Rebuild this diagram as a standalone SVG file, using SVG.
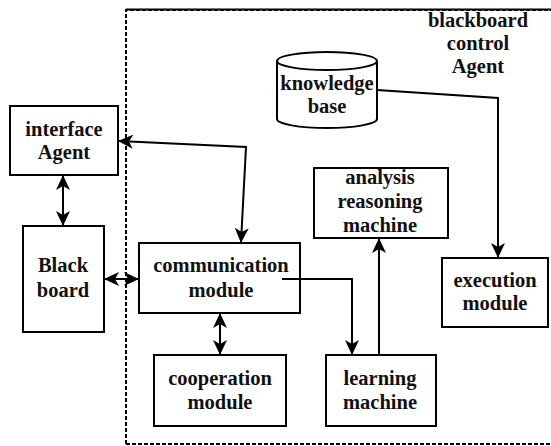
<svg xmlns="http://www.w3.org/2000/svg" width="551" height="446" viewBox="0 0 551 446">
<defs>
<marker id="ah" markerWidth="15" markerHeight="14" refX="14" refY="7" orient="auto-start-reverse" markerUnits="userSpaceOnUse">
<path d="M0,0 L15,7 L0,14 L4,7 Z" fill="#000"/>
</marker>
<style>
.box{fill:#fff;stroke:#000;stroke-width:2}
.t{font-family:"Liberation Serif","Times New Roman",serif;font-weight:bold;font-size:20.5px;text-anchor:middle;fill:#111}
.c{fill:none;stroke:#000;stroke-width:2}
.b{fill:none;stroke:#000;stroke-width:2;stroke-dasharray:4 2}
</style>
</defs>
<rect width="551" height="446" fill="#fff"/>
<g id="boundary">
<path class="b" d="M126,444 L126,10 L560,10"/>
<path class="b" d="M126,444 L560,444"/>
<path d="M126,9.5 L560,9.5" stroke="#000" stroke-width="2"/>
</g>
<g id="label-blackboard-control">
<text class="t" x="478" y="27">blackboard</text>
<text class="t" x="478" y="50">control</text>
<text class="t" x="478" y="73">Agent</text>
</g>
<g id="interface-agent">
<rect class="box" x="10" y="106" width="108" height="69"/>
<text class="t" x="64" y="136">interface</text>
<text class="t" x="64" y="159">Agent</text>
</g>
<g id="blackboard">
<rect class="box" x="23" y="226" width="81" height="106"/>
<text class="t" x="63" y="272">Black</text>
<text class="t" x="63" y="297">board</text>
</g>
<g id="communication-module">
<rect class="box" x="139" y="243" width="161" height="70"/>
<text class="t" x="221" y="272">communication</text>
<text class="t" x="221" y="297">module</text>
</g>
<g id="cooperation-module">
<rect class="box" x="154" y="355" width="132" height="71"/>
<text class="t" x="220" y="385">cooperation</text>
<text class="t" x="220" y="409">module</text>
</g>
<g id="learning-machine">
<rect class="box" x="326" y="355" width="110" height="71"/>
<text class="t" x="380" y="385">learning</text>
<text class="t" x="380" y="409">machine</text>
</g>
<g id="analysis-reasoning-machine">
<rect class="box" x="314" y="168" width="134" height="70"/>
<text class="t" x="380" y="184">analysis</text>
<text class="t" x="380" y="208">reasoning</text>
<text class="t" x="380" y="232">machine</text>
</g>
<g id="execution-module">
<rect class="box" x="442" y="258" width="106" height="69"/>
<text class="t" x="495" y="287">execution</text>
<text class="t" x="495" y="310">module</text>
</g>
<g id="knowledge-base">
<path class="box" d="M277,61 L277,119 A50,9 0 0 0 377,119 L377,61"/>
<ellipse class="box" cx="327" cy="61" rx="50" ry="9"/>
<text class="t" x="327" y="90">knowledge</text>
<text class="t" x="327" y="113">base</text>
</g>
<g id="connectors">
<path class="c" d="M119,141 L246,147 L241,242" marker-start="url(#ah)" marker-end="url(#ah)"/>
<path class="c" d="M63,176 L63,225" marker-start="url(#ah)" marker-end="url(#ah)"/>
<path class="c" d="M105,279 L138,279" marker-start="url(#ah)" marker-end="url(#ah)"/>
<path class="c" d="M220,314 L220,354" marker-start="url(#ah)" marker-end="url(#ah)"/>
<path class="c" d="M282,279 L352,279 L352,354" marker-end="url(#ah)"/>
<path class="c" d="M379,355 L379,239" marker-end="url(#ah)"/>
<path class="c" d="M377,90 L498,98 L498,257" marker-end="url(#ah)"/>
</g>
</svg>
